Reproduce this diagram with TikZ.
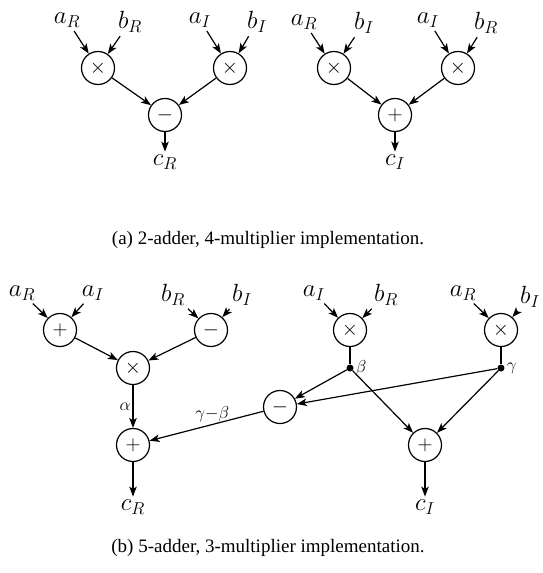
\documentclass[tikz,border=0pt]{standalone}
\usepackage{fontspec}
\setmainfont{Liberation Serif}
\usetikzlibrary{arrows.meta}

\begin{document}
\begin{tikzpicture}[x=1pt, y=-1pt,
  op/.style={circle, draw, line width=1.2pt, minimum size=33pt, inner sep=0pt,
    font=\fontsize{22}{24}\selectfont},
  var/.style={font=\fontsize{24}{26}\selectfont, inner sep=1pt},
  tag/.style={font=\fontsize{16}{18}\selectfont, inner sep=2pt},
  flow/.style={-{Stealth[length=10pt, width=7.5pt, inset=2.5pt]}, line width=1.2pt},
  feed/.style={flow, shorten <=3pt},
  wire/.style={line width=1.2pt},
  dot/.style={circle, fill, inner sep=0pt, minimum size=7pt}]
  \useasboundingbox (0,0) rectangle (542,573);

  % (a) real part
  \node[var] (aR1) at (67,20)  {$a_R$};
  \node[var] (bR1) at (130,22) {$b_R$};
  \node[var] (aI1) at (200,20) {$a_I$};
  \node[var] (bI1) at (257,22) {$b_I$};
  \node[op] (mulRR) at (98,68)  {$\times$};
  \node[op] (mulII) at (230,68) {$\times$};
  \node[op] (subR)  at (165,115) {$-$};
  \node[var] (cR1) at (165,162) {$c_R$};
  \draw[feed] (aR1) -- (mulRR);
  \draw[feed] (bR1) -- (mulRR);
  \draw[feed] (aI1) -- (mulII);
  \draw[feed] (bI1) -- (mulII);
  \draw[flow] (mulRR) -- (subR);
  \draw[flow] (mulII) -- (subR);
  \draw[flow, shorten >=2pt] (subR) -- (cR1);

  % (a) imaginary part
  \node[var] (aR2) at (304,22) {$a_R$};
  \node[var] (bI2) at (364,23) {$b_I$};
  \node[var] (aI2) at (428,20) {$a_I$};
  \node[var] (bR2) at (486,23) {$b_R$};
  \node[op] (mulRI) at (334,68) {$\times$};
  \node[op] (mulIR) at (458,68) {$\times$};
  \node[op] (addI)  at (395,115) {$+$};
  \node[var] (cI1) at (395,162) {$c_I$};
  \draw[feed] (aR2) -- (mulRI);
  \draw[feed] (bI2) -- (mulRI);
  \draw[feed] (aI2) -- (mulIR);
  \draw[feed] (bR2) -- (mulIR);
  \draw[flow] (mulRI) -- (addI);
  \draw[flow] (mulIR) -- (addI);
  \draw[flow, shorten >=2pt] (addI) -- (cI1);

  \node[font=\fontsize{19}{22}\selectfont] (capA) at (268,240)
    {(a) 2-adder, 4-multiplier implementation.};

  % (b) three multipliers
  \node[var] (aR3) at (22,293)  {$a_R$};
  \node[var] (aI3) at (93,293)  {$a_I$};
  \node[var] (bR3) at (173,295) {$b_R$};
  \node[var] (bI3) at (242,295) {$b_I$};
  \node[op] (addA)  at (60,330)  {$+$};
  \node[op] (subB)  at (211,330) {$-$};
  \node[op] (mulAB) at (133,368) {$\times$};
  \node[op] (addR)  at (133,445) {$+$};
  \node[var] (cR2) at (133,507) {$c_R$};

  \node[var] (aI4) at (314,293) {$a_I$};
  \node[var] (bR4) at (386,295) {$b_R$};
  \node[var] (aR4) at (463,293) {$a_R$};
  \node[var] (bI4) at (530,297) {$b_I$};
  \node[op] (mulIRb) at (350,330) {$\times$};
  \node[op] (mulRIb) at (501,330) {$\times$};
  \node[dot] (beta)  at (350,368) {};
  \node[dot] (gamma) at (501,368) {};
  \node[tag, right] (betaL)  at (beta.east)  {$\beta$};
  \node[tag, right] (gammaL) at (gamma.east) {$\gamma$};
  \node[op] (subGB) at (280,407) {$-$};
  \node[op] (addIb) at (425,445) {$+$};
  \node[var] (cI2) at (425,507) {$c_I$};

  \draw[feed] (aR3) -- (addA);
  \draw[feed] (aI3) -- (addA);
  \draw[feed] (bR3) -- (subB);
  \draw[feed] (bI3) -- (subB);
  \draw[flow] (addA) -- (mulAB);
  \draw[flow] (subB) -- (mulAB);
  \draw[flow] (mulAB) -- node[tag, left] (alphaL) {$\alpha$} (addR);
  \draw[flow] (subGB) -- node[tag, above, pos=0.45] (diffL) {$\gamma{-}\beta$} (addR);
  \draw[flow, shorten >=2pt] (addR) -- (cR2);

  \draw[feed] (aI4) -- (mulIRb);
  \draw[feed] (bR4) -- (mulIRb);
  \draw[feed] (aR4) -- (mulRIb);
  \draw[feed] (bI4) -- (mulRIb);
  \draw[wire] (mulIRb) -- (beta);
  \draw[wire] (mulRIb) -- (gamma);
  \draw[flow] (beta) -- (subGB);
  \draw[flow] (gamma) -- (subGB);
  \draw[flow] (beta) -- (addIb);
  \draw[flow] (gamma) -- (addIb);
  \draw[flow, shorten >=2pt] (addIb) -- (cI2);

  \node[font=\fontsize{19}{22}\selectfont] (capB) at (268,548)
    {(b) 5-adder, 3-multiplier implementation.};
\end{tikzpicture}
\end{document}
